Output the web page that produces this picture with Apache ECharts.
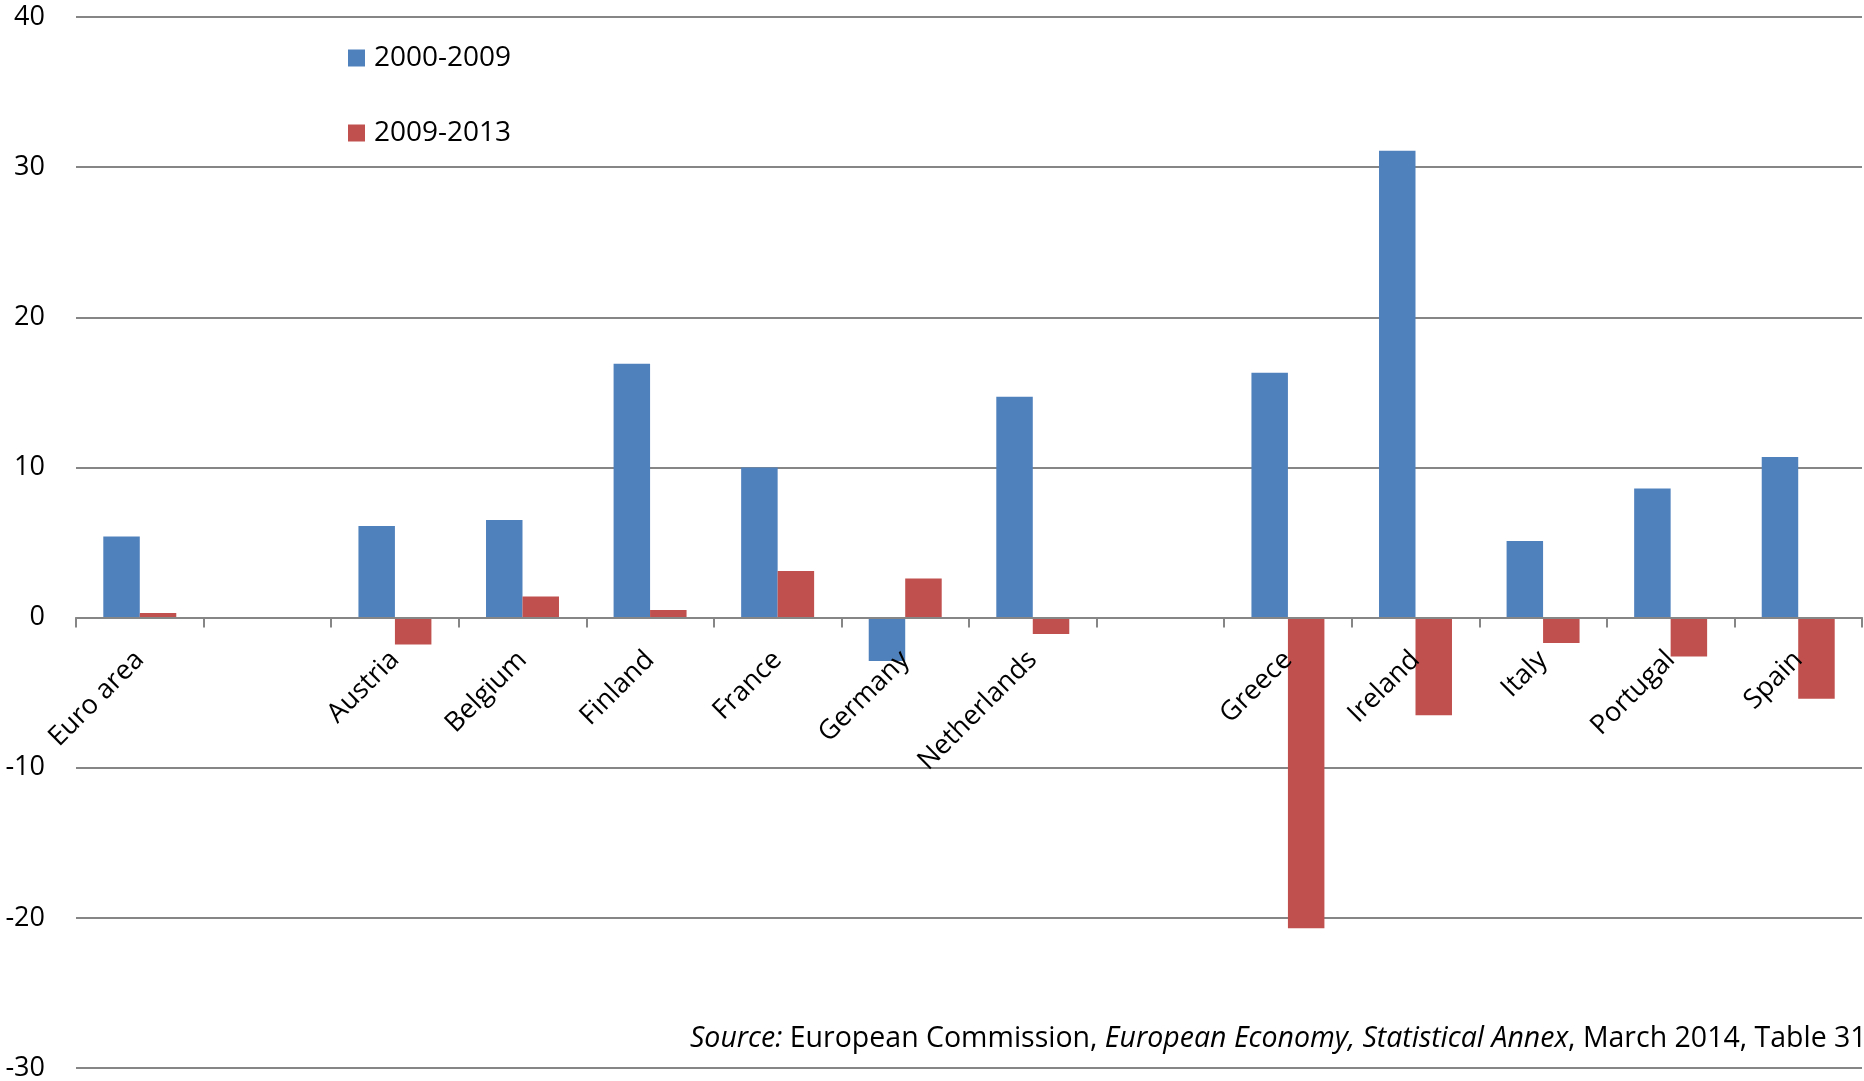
<!DOCTYPE html>
<html>
<head>
<meta charset="utf-8">
<style>
  html, body { margin: 0; padding: 0; background: #ffffff; }
  #chart { width: 1864px; height: 1081px; }
</style>
<script src="https://cdn.jsdelivr.net/npm/echarts@6/dist/echarts.min.js"></script>
</head>
<body>
<div id="chart"></div>
<script>
// Country groups; blank slots separate the euro-area aggregate, the core and the periphery.
const categories = ['Euro area', '', 'Austria', 'Belgium', 'Finland', 'France', 'Germany', 'Netherlands', '', 'Greece', 'Ireland', 'Italy', 'Portugal', 'Spain'];
const seriesNames = ['2000-2009', '2009-2013'];
const values2000_2009 = [5.4, null, 6.1, 6.5, 16.9, 10.0, -2.9, 14.7, null, 16.3, 31.1, 5.1, 8.6, 10.7];
const values2009_2013 = [0.3, null, -1.8, 1.4, 0.5, 3.1, 2.6, -1.1, null, -20.7, -6.5, -1.7, -2.6, -5.4];
const yTicks = { min: -30, max: 40, interval: 10 };

const FONT = '"Open Sans", "Noto Sans", sans-serif';
const GRID_TOP = 17;
const GRID_BOTTOM = 13;
const CHART_H = 1081;

// The category axis sits on the zero line: shift it up from the grid bottom
// by the pixel distance between yTicks.min and 0.
const plotHeight = CHART_H - GRID_TOP - GRID_BOTTOM;
const zeroOffset = plotHeight * (0 - yTicks.min) / (yTicks.max - yTicks.min);

const chart = echarts.init(document.getElementById('chart'), null, { renderer: 'canvas' });

chart.setOption({
  animation: false,
  backgroundColor: '#ffffff',
  color: ['#4F81BD', '#C0504D'],
  grid: {
    left: 76, right: 2, top: GRID_TOP, bottom: GRID_BOTTOM,
    containLabel: false,
    outerBoundsMode: 'none'
  },
  legend: {
    orient: 'vertical',
    left: 343,
    top: 38,
    itemWidth: 17,
    itemHeight: 17,
    itemGap: 45,
    icon: 'rect',
    data: seriesNames,
    textStyle: { fontFamily: FONT, fontSize: 28, color: '#000', lineHeight: 30, padding: [0, 0, 0, 4] }
  },
  xAxis: {
    type: 'category',
    data: categories,
    boundaryGap: true,
    position: 'bottom',
    offset: -zeroOffset,
    z: 10,
    axisLine: { onZero: false, lineStyle: { color: '#868686', width: 2 } },
    axisTick: { show: true, length: 10, interval: 0, lineStyle: { color: '#868686', width: 2 } },
    axisLabel: {
      interval: 0,
      rotate: 45,
      margin: 38,
      fontFamily: FONT,
      fontSize: 27,
      color: '#000'
    },
    splitLine: { show: false }
  },
  yAxis: {
    type: 'value',
    min: yTicks.min,
    max: yTicks.max,
    interval: yTicks.interval,
    axisLine: { show: false },
    axisTick: { show: false },
    axisLabel: { fontFamily: FONT, fontSize: 27, color: '#000', margin: 31 },
    splitLine: { lineStyle: { color: '#868686', width: 2 } }
  },
  series: [
    {
      name: seriesNames[0],
      type: 'bar',
      data: values2000_2009,
      barWidth: '28.6%',
      barGap: '0%'
    },
    {
      name: seriesNames[1],
      type: 'bar',
      data: values2009_2013,
      barWidth: '28.6%',
      barGap: '0%'
    }
  ],
  graphic: [
    {
      type: 'text',
      left: 690,
      top: 1024,
      style: {
        text: '{i|Source:} European Commission, {i|European Economy, Statistical Annex}, March 2014, Table 31',
        font: '28.5px ' + FONT,
        fill: '#000',
        rich: {
          i: { fontStyle: 'italic', fontFamily: FONT, fontSize: 28.5, fill: '#000' }
        }
      }
    }
  ]
});
</script>
</body>
</html>
